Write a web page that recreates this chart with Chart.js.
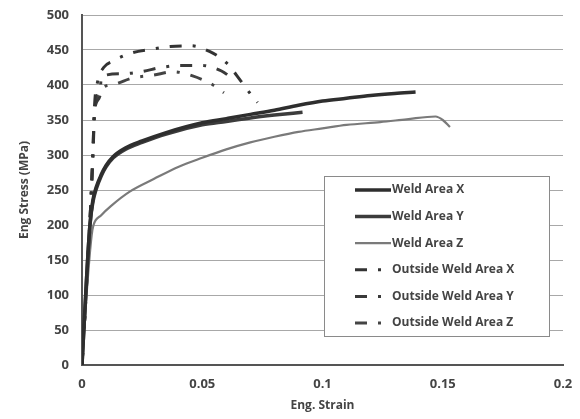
<!DOCTYPE html>
<html>
<head>
<meta charset="utf-8">
<script src="https://cdn.jsdelivr.net/npm/chart.js@4.4.0/dist/chart.umd.min.js"></script>
<style>
  html, body { margin: 0; padding: 0; background: #fff; }
  #wrap { width: 580px; height: 419px; }
</style>
</head>
<body>
<div id="wrap"><canvas id="myChart" width="580" height="419"></canvas></div>
<script>
const seriesNames = [
  "Weld Area X", "Weld Area Y", "Weld Area Z",
  "Outside Weld Area X", "Outside Weld Area Y", "Outside Weld Area Z"
];

// strain / stress (MPa)
const weldXStrain = [0, 0.002, 0.0033, 0.0045, 0.006, 0.008, 0.010, 0.013, 0.018, 0.025, 0.035, 0.05, 0.06, 0.07, 0.08, 0.09, 0.1, 0.11, 0.12, 0.13, 0.1387];
const weldXStress = [0, 130, 200, 235, 255, 272, 285, 298, 310, 320, 332, 346, 352, 358, 364, 371, 377, 381, 385, 388, 390];

const weldYStrain = [0, 0.002, 0.0033, 0.0045, 0.006, 0.008, 0.010, 0.013, 0.018, 0.025, 0.035, 0.05, 0.06, 0.07, 0.08, 0.0917];
const weldYStress = [0, 130, 200, 232, 252, 270, 283, 296, 308, 318, 330, 343, 348, 353, 357, 361];

const weldZStrain = [0, 0.002, 0.004, 0.0048, 0.008, 0.012, 0.02, 0.03, 0.04, 0.05, 0.06, 0.07, 0.08, 0.09, 0.1, 0.11, 0.124, 0.135, 0.147, 0.15, 0.153];
const weldZStress = [0, 105, 185, 200, 214, 227, 248, 266, 283, 296, 308, 318, 326, 333, 338, 343, 347, 351, 355, 350, 340];

const outXStrain = [0, 0.002, 0.0035, 0.0045, 0.0052, 0.0065, 0.009, 0.0128, 0.0208, 0.0286, 0.0367, 0.0454, 0.053, 0.06, 0.066, 0.071, 0.073];
const outXStress = [0, 120, 220, 300, 370, 405, 425, 434, 446, 451, 455, 456, 448, 432, 406, 383, 375];

const outYStrain = [0, 0.002, 0.0035, 0.0045, 0.0052, 0.0075, 0.008, 0.0165, 0.0246, 0.0328, 0.041, 0.0496, 0.058, 0.063];
const outYStress = [0, 120, 220, 300, 365, 385, 412, 416, 419, 425, 428, 428, 420, 408];

const outZStrain = [0, 0.002, 0.0035, 0.0045, 0.0052, 0.0075, 0.0133, 0.021, 0.0296, 0.0378, 0.046, 0.054, 0.059];
const outZStress = [0, 120, 220, 295, 355, 392, 401, 410, 414, 419, 413, 401, 389];

const xTickLabels = ["0", "0.05", "0.1", "0.15", "0.2"];

function pts(xs, ys) {
  return xs.map((x, i) => ({ x: x, y: ys[i] }));
}

const dashDot = [12, 11, 3, 11];

const data = {
  datasets: [
    { label: seriesNames[0], data: pts(weldXStrain, weldXStress), borderColor: "#2e2e2e", borderWidth: 3.5 },
    { label: seriesNames[1], data: pts(weldYStrain, weldYStress), borderColor: "#3c3c3c", borderWidth: 3.5 },
    { label: seriesNames[2], data: pts(weldZStrain, weldZStress), borderColor: "#7a7a7a", borderWidth: 2.2 },
    { label: seriesNames[3], data: pts(outXStrain, outXStress), borderColor: "#333333", borderWidth: 3, borderDash: dashDot },
    { label: seriesNames[4], data: pts(outYStrain, outYStress), borderColor: "#3a3a3a", borderWidth: 3, borderDash: dashDot },
    { label: seriesNames[5], data: pts(outZStrain, outZStress), borderColor: "#444444", borderWidth: 3, borderDash: dashDot },
  ],
};

// legend box drawn inside the plot
const boxLegend = {
  id: "boxLegend",
  afterDraw(chart) {
    const ctx = chart.ctx;
    const x0 = 324, y0 = 176, w = 225, h = 160;
    ctx.save();
    ctx.fillStyle = "#fff";
    ctx.fillRect(x0, y0, w, h);
    ctx.strokeStyle = "#8a8a8a";
    ctx.lineWidth = 1;
    ctx.strokeRect(x0 + 0.5, y0 + 0.5, w, h);
    ctx.font = "bold 12px 'Open Sans'";
    ctx.textBaseline = "middle";
    chart.data.datasets.forEach((ds, i) => {
      const y = 190 + i * 26.6;
      ctx.strokeStyle = ds.borderColor;
      ctx.lineWidth = ds.borderWidth;
      ctx.setLineDash(ds.borderDash || []);
      ctx.beginPath();
      ctx.moveTo(355, y);
      ctx.lineTo(391, y);
      ctx.stroke();
      ctx.setLineDash([]);
      ctx.fillStyle = "#444";
      ctx.fillText(ds.label, 392, y);
    });
    ctx.restore();
  },
};

const config = {
  type: "scatter",
  data: data,
  options: {
    responsive: false,
    animation: false,
    showLine: true,
    elements: {
      point: { radius: 0 },
      line: { cubicInterpolationMode: "monotone", borderCapStyle: "butt" },
    },
    layout: {
      padding: { left: 0, right: 17, top: 15, bottom: 0 },
    },
    scales: {
      x: {
        type: "linear",
        min: 0,
        max: 0.2,
        afterFit: (s) => { s.height = 54; },
        grid: { display: false, drawTicks: true, tickLength: 11, tickColor: "rgba(0,0,0,0)" },
        border: { display: true, color: "#555", width: 2 },
        ticks: {
          stepSize: 0.05,
          padding: 0,
          color: "#444",
          font: { family: "Open Sans", size: 13, weight: "bold" },
          callback: (v) => xTickLabels[Math.round(v / 0.05)],
        },
        title: {
          display: true,
          text: "Eng. Strain",
          color: "#444",
          font: { family: "Open Sans", size: 12, weight: "bold" },
          padding: { top: 6, bottom: 6 },
        },
      },
      y: {
        min: 0,
        max: 500,
        afterFit: (s) => { s.width = 82; },
        grid: { color: "#a8a8a8", lineWidth: 1, drawTicks: true, tickLength: 13, tickColor: "rgba(0,0,0,0)" },
        border: { display: true, color: "#555", width: 2 },
        ticks: {
          stepSize: 50,
          padding: 0,
          color: "#444",
          font: { family: "Open Sans", size: 13, weight: "bold" },
        },
        title: {
          display: true,
          text: "Eng Stress (MPa)",
          color: "#444",
          font: { family: "Open Sans", size: 12, weight: "bold" },
          padding: { top: 17, bottom: 0 },
        },
      },
    },
    plugins: {
      legend: { display: false },
      tooltip: { enabled: false },
    },
  },
  plugins: [boxLegend],
};

const myChart = new Chart(document.getElementById("myChart").getContext("2d"), config);
</script>
</body>
</html>
